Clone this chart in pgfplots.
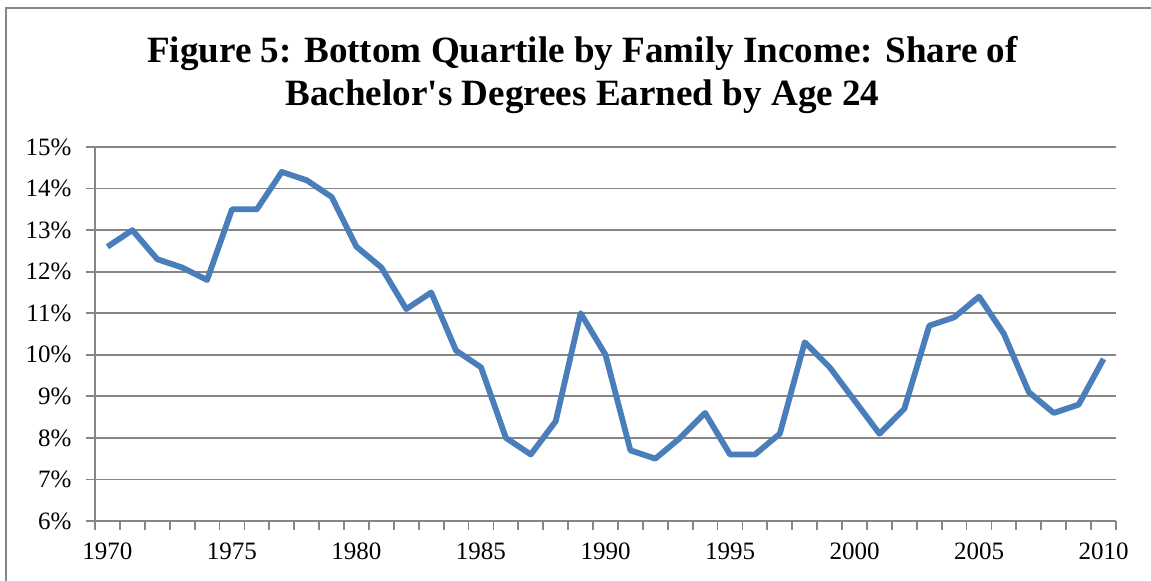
\documentclass[border=0pt]{standalone}
\usepackage{fontspec}
\setmainfont{Liberation Serif}
\newfontfamily\titlefont{Liberation Serif}[Ligatures=TeXOff]
\usepackage{pgfplots}
\pgfplotsset{compat=1.18}
\definecolor{gridgray}{RGB}{134,134,134}
\definecolor{lineblue}{RGB}{74,126,187}
\begin{document}
\begin{tikzpicture}
\useasboundingbox (-47.5pt,-30pt) rectangle (528pt,260.5pt);
\draw[gridgray, line width=0.75pt] (-44.5pt,-30pt) -- (-44.5pt,256.5pt) -- (528pt,256.5pt);
\node[anchor=base, inner sep=0pt, font=\titlefont\fontsize{18.55}{22}\selectfont\bfseries] at (243.75pt,229pt) {Figure 5: Bottom Quartile by Family Income: Share of};
\node[anchor=base, inner sep=0pt, font=\titlefont\fontsize{18.55}{22}\selectfont\bfseries] at (243.75pt,207.5pt) {Bachelor's Degrees Earned by Age 24};
\begin{axis}[
  scale only axis, width=510.5pt, height=187pt,
  xmin=1969.5, xmax=2010.5, ymin=6, ymax=15,
  axis x line=bottom, axis y line=left,
  axis line style={gridgray, line width=0.9pt, -},
  ytick={6,...,15},
  yticklabel={\pgfmathprintnumber{\tick}\%},
  /pgf/number format/assume math mode=true,
  ymajorgrids, grid style={gridgray, line width=0.9pt},
  xtick={1969.5,1970.5,...,2010.5}, xticklabels={},
  extra x ticks={1970,1975,1980,1985,1990,1995,2000,2005,2010},
  extra x tick labels={1970,1975,1980,1985,1990,1995,2000,2005,2010},
  extra x tick style={grid=none, tick style={draw=none}},
  tick align=outside, major tick length=4.5pt,
  tick style={gridgray, line width=0.9pt},
  ticklabel style={font=\fontsize{12.5}{15}\selectfont},
  xticklabel style={yshift=-2.8pt},
  yticklabel style={xshift=-3.8pt},
  clip=false,
]
\addplot[lineblue, line width=2.9pt, line join=round, mark=none] coordinates {
(1970,12.6) (1971,13.0) (1972,12.3) (1973,12.1) (1974,11.8)
(1975,13.5) (1976,13.5) (1977,14.4) (1978,14.2) (1979,13.8)
(1980,12.6) (1981,12.1) (1982,11.1) (1983,11.5) (1984,10.1)
(1985,9.7) (1986,8.0) (1987,7.6) (1988,8.4) (1989,11.0)
(1990,10.0) (1991,7.7) (1992,7.5) (1993,8.0) (1994,8.6)
(1995,7.6) (1996,7.6) (1997,8.1) (1998,10.3) (1999,9.7)
(2000,8.9) (2001,8.1) (2002,8.7) (2003,10.7) (2004,10.9)
(2005,11.4) (2006,10.5) (2007,9.1) (2008,8.6) (2009,8.8)
(2010,9.9)
};
\end{axis}
\end{tikzpicture}
\end{document}
